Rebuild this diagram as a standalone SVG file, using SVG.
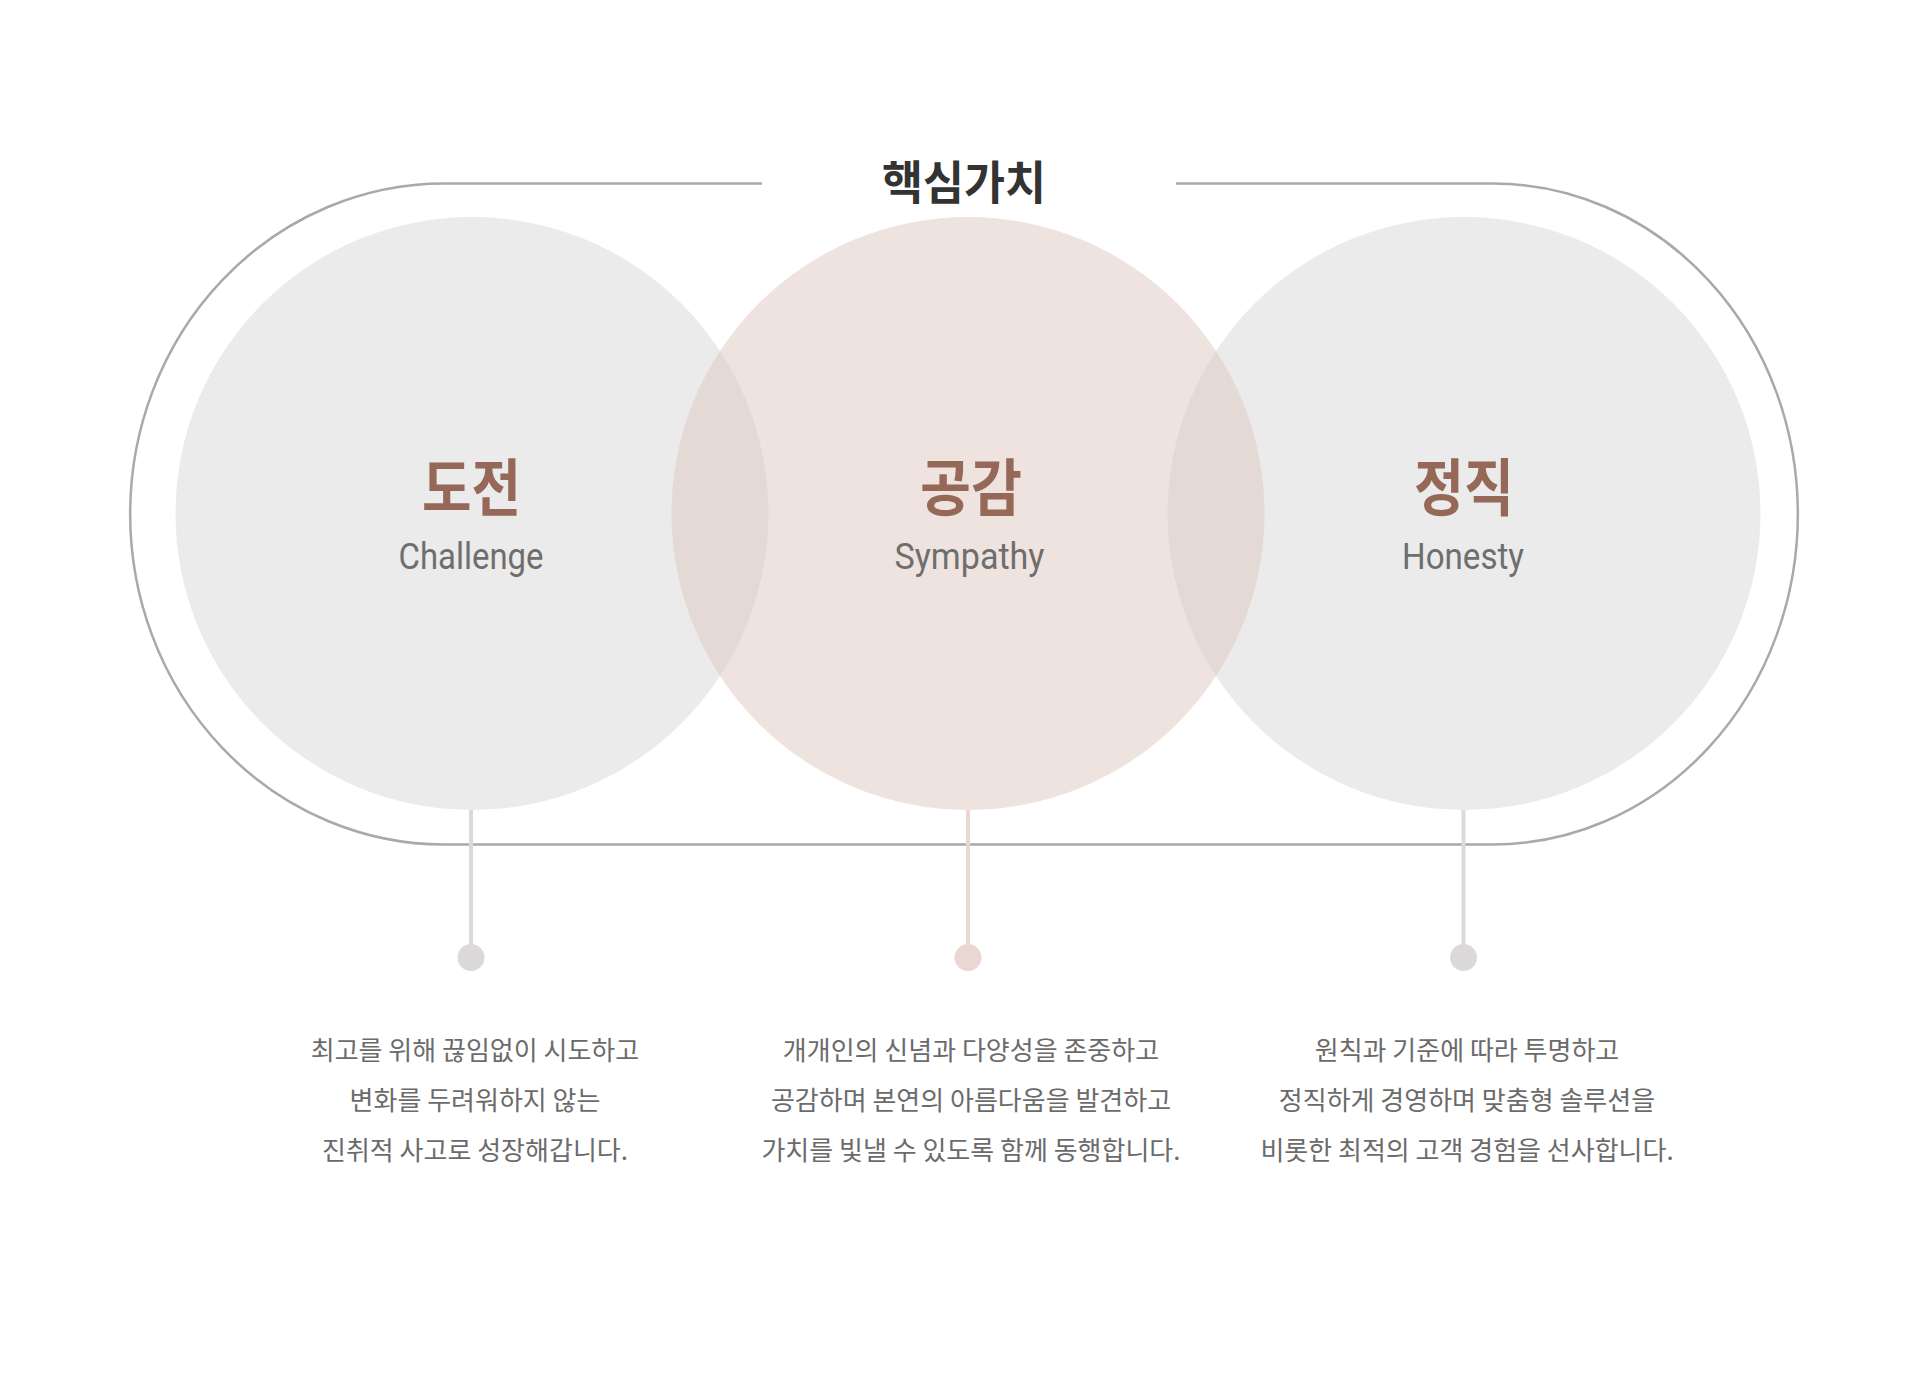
<svg xmlns="http://www.w3.org/2000/svg" width="1920" height="1379" viewBox="0 0 1920 1379">
  <style>
    .frame { fill: none; stroke: #a9a9a9; stroke-width: 2.5; }
    .grey { fill: #ebebeb; }
    .pink { fill: #dfc7bf; fill-opacity: 0.5; }
    .title { font-family: "Noto Sans CJK KR", "Noto Sans", sans-serif; font-weight: 700; font-size: 46px; fill: #333333; text-anchor: middle; }
    .ko { font-family: "Noto Sans CJK KR", sans-serif; font-weight: 700; font-size: 62px; fill: #956858; text-anchor: middle; }
    .en { font-family: "Roboto", "Liberation Sans", sans-serif; font-size: 36px; fill: #6e6e6e; text-anchor: middle; }
    .desc { font-family: "Noto Sans CJK KR", sans-serif; font-size: 26px; fill: #6b6b6b; text-anchor: middle; }
    .stem-grey { stroke: #dcd9da; stroke-width: 4; }
    .stem-pink { stroke: #ead7d3; stroke-width: 4; }
    .dot-grey { fill: #dcd9da; }
    .dot-pink { fill: #ead7d3; }
  </style>
  <rect width="1920" height="1379" fill="#ffffff"/>

  <g id="frame">
    <path class="frame" d="M 762 183.5 H 444 A 314 330.5 0 0 0 444 844.5 H 1493 A 305 330.5 0 0 0 1493 183.5 H 1176"/>
  </g>

  <g id="title">
    <text class="title" x="964" y="199" textLength="164" lengthAdjust="spacingAndGlyphs">핵심가치</text>
  </g>

  <g id="node-challenge">
    <circle class="grey" cx="472" cy="513.5" r="296.5"/>
  </g>
  <g id="node-honesty">
    <circle class="grey" cx="1464" cy="513.5" r="296.5"/>
  </g>
  <g id="node-sympathy">
    <circle class="pink" cx="968" cy="513.5" r="296.5"/>
  </g>

  <g id="connectors">
    <line class="stem-grey" x1="471" y1="810" x2="471" y2="955"/>
    <circle class="dot-grey" cx="471" cy="957.5" r="13.5"/>
    <line class="stem-pink" x1="968" y1="810" x2="968" y2="955"/>
    <circle class="dot-pink" cx="968" cy="957.5" r="13.5"/>
    <line class="stem-grey" x1="1463.5" y1="810" x2="1463.5" y2="955"/>
    <circle class="dot-grey" cx="1463.5" cy="957.5" r="13.5"/>
  </g>

  <g id="label-challenge">
    <text class="ko" x="471.5" y="511" textLength="99" lengthAdjust="spacingAndGlyphs">도전</text>
    <text class="en" x="471" y="569" textLength="145" lengthAdjust="spacingAndGlyphs">Challenge</text>
  </g>
  <g id="label-sympathy">
    <text class="ko" x="971" y="511" textLength="102" lengthAdjust="spacingAndGlyphs">공감</text>
    <text class="en" x="969.5" y="569" textLength="150" lengthAdjust="spacingAndGlyphs">Sympathy</text>
  </g>
  <g id="label-honesty">
    <text class="ko" x="1464" y="511" textLength="100" lengthAdjust="spacingAndGlyphs">정직</text>
    <text class="en" x="1463" y="569" textLength="122" lengthAdjust="spacingAndGlyphs">Honesty</text>
  </g>

  <g id="desc-challenge">
    <text class="desc" x="475" y="1060">최고를 위해 끊임없이 시도하고</text>
    <text class="desc" x="475" y="1110">변화를 두려워하지 않는</text>
    <text class="desc" x="475" y="1160">진취적 사고로 성장해갑니다.</text>
  </g>
  <g id="desc-sympathy">
    <text class="desc" x="971" y="1060">개개인의 신념과 다양성을 존중하고</text>
    <text class="desc" x="971" y="1110">공감하며 본연의 아름다움을 발견하고</text>
    <text class="desc" x="971" y="1160">가치를 빛낼 수 있도록 함께 동행합니다.</text>
  </g>
  <g id="desc-honesty">
    <text class="desc" x="1467" y="1060">원칙과 기준에 따라 투명하고</text>
    <text class="desc" x="1467" y="1110">정직하게 경영하며 맞춤형 솔루션을</text>
    <text class="desc" x="1467" y="1160">비롯한 최적의 고객 경험을 선사합니다.</text>
  </g>
</svg>
